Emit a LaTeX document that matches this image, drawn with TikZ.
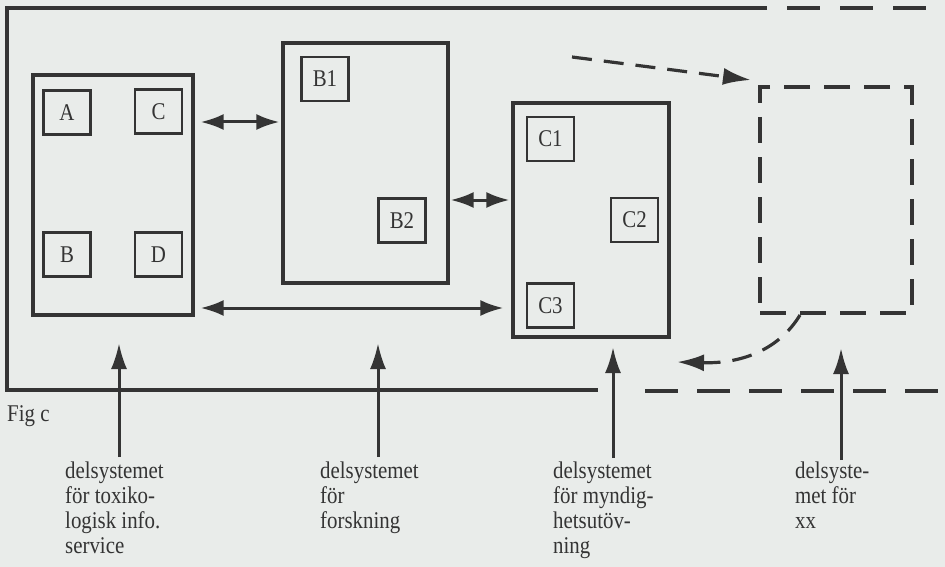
\documentclass[tikz,border=0pt]{standalone}
\usepackage{fontspec}
\setmainfont{Liberation Serif}
\newfontfamily\lblfont[FakeStretch=0.87]{Liberation Serif}
\usetikzlibrary{arrows.meta,calc}
\definecolor{bg}{RGB}{233,236,234}
\definecolor{ink}{RGB}{52,52,52}
\begin{document}
\begin{tikzpicture}[x=1pt,y=-1pt,
  bigbox/.style={draw=ink,line width=3.2pt,inner sep=0pt},
  smallbox/.style={draw=ink,line width=2.2pt,minimum width=47pt,minimum height=44pt,inner sep=0pt,text=ink,font=\lblfont\fontsize{24}{26}\selectfont},
  dashbox/.style={draw=ink,line width=4pt,dash pattern=on 26pt off 14pt,inner sep=0pt},
  conn/.style={draw=ink,line width=3pt},
  uptip/.style={-{Latex[length=26pt,width=16pt]}},
  dbl/.style={{Latex[length=23pt,width=16pt]}-{Latex[length=23pt,width=16pt]}},
  dashconn/.style={draw=ink,line width=3.2pt,dash pattern=on 20pt off 12pt},
  lbl/.style={anchor=north west,align=left,inner sep=0pt,text=ink,font=\lblfont\fontsize{24}{25}\selectfont},
]
\fill[bg] (0,0) rectangle (945,567);
\useasboundingbox (0,0) rectangle (945,567);

% outer frame
\draw[ink,line width=3.2pt] (767,8) -- (7,8) -- (7,390) -- (598,390);
\draw[ink,line width=4pt,dash pattern=on 33pt off 20pt] (787,8) -- (945,8);
\draw[ink,line width=4pt,dash pattern=on 33pt off 19pt] (645,391) -- (945,391);

% subsystem boxes
\node[bigbox,minimum width=160pt,minimum height=240pt] (L) at (113,195) {};
\node[bigbox,minimum width=165pt,minimum height=240pt] (F) at (365.5,163) {};
\node[bigbox,minimum width=156pt,minimum height=234pt] (M) at (591,220) {};
\node[dashbox,minimum width=152pt,minimum height=226pt] (X) at (836,200) {};

% inner boxes
\node[smallbox] (a) at (67,112.5) {A};
\node[smallbox] (c) at (158.5,111.5) {C};
\node[smallbox] (b) at (67,254.5) {B};
\node[smallbox] (d) at (158.5,254.5) {D};
\node[smallbox] (b1) at (325,79) {B1};
\node[smallbox] (b2) at (402,220.5) {B2};
\node[smallbox] (c1) at (550.5,139) {C1};
\node[smallbox] (c2) at (634.5,220) {C2};
\node[smallbox] (c3) at (550.5,305.5) {C3};

% connectors between boxes
\coordinate (p1) at ([yshift=73pt]L.east);
\draw[conn,dbl,shorten <=6pt,shorten >=2pt] (p1) -- (p1 -| F.west);
\coordinate (p2) at ([yshift=-37pt]F.east);
\draw[conn,dbl,shorten <=1pt,shorten >=2pt] (p2) -- (p2 -| M.west);
\coordinate (p3) at ([yshift=-113pt]L.east);
\draw[conn,dbl,shorten <=6pt,shorten >=8pt] (p3) -- (p3 -| M.west);

% dashed connectors
\coordinate (s1) at (572,57);
\draw[dashconn,-{Latex[length=28pt,width=17pt]}] (s1) -- ([shift={(-7,-5)}]X.north west);
\coordinate (s2) at (677,362);
\draw[dashconn,-{Latex[length=27pt,width=17pt]}] ([xshift=-36pt]X.south) .. controls (782,345) and (748,364) .. (s2);

% labels
\node[lbl] (fig) at (7,405) {Fig c};
\node[lbl] (l1) at (65,462) {delsystemet\\för toxiko-\\logisk info.\\service};
\node[lbl] (l2) at (320,462) {delsystemet\\för\\forskning};
\node[lbl] (l3) at (553,462) {delsystemet\\för myndig-\\hetsutöv-\\ning};
\node[lbl] (l4) at (795,462) {delsyste-\\met för\\xx};

% pointer arrows
\coordinate (v1b) at (119,457); \coordinate (v1t) at (119,343);
\coordinate (v2b) at (378,457); \coordinate (v2t) at (378,343);
\coordinate (v3b) at (613,458); \coordinate (v3t) at (613,347);
\coordinate (v4b) at (841,460); \coordinate (v4t) at (841,348);
\draw[conn,uptip] (v1b) -- (v1t);
\draw[conn,uptip] (v2b) -- (v2t);
\draw[conn,uptip] (v3b) -- (v3t);
\draw[conn,uptip] (v4b) -- (v4t);
\end{tikzpicture}
\end{document}
